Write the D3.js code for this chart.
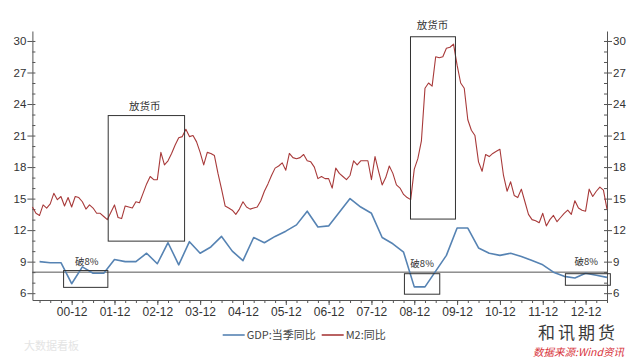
<!DOCTYPE html>
<html><head><meta charset="utf-8">
<script src="https://cdn.jsdelivr.net/npm/d3@7"></script>
<style>body{margin:0;background:#fff}svg{display:block}</style>
</head><body>
<svg id="chart" width="640" height="361"></svg>
<script>
// ---- data ----
// M2 YoY (%), monthly 2000-01 .. 2013-06
const m2Values = [
  14.2,13.6,13.4,14.4,14.1,14.5,15.5,14.9,15.2,14.3,15.1,14.2,
  15.2,15.1,14.7,14.0,14.4,14.1,13.6,13.6,13.3,13.0,13.7,14.4,
  13.2,13.1,14.3,14.2,14.1,14.7,14.6,15.5,16.4,17.1,16.8,16.8,
  19.4,18.2,18.6,19.3,20.1,20.8,20.9,21.6,20.9,21.0,20.4,19.4,
  18.2,19.4,19.3,19.1,17.4,15.9,14.3,14.1,13.9,13.5,14.0,14.7,
  14.2,14.0,14.1,14.2,14.8,15.7,16.4,17.2,17.9,18.1,18.4,17.7,
  19.3,18.9,18.8,18.9,19.2,18.6,18.5,18.0,16.9,17.1,16.9,16.9,
  16.0,17.9,17.4,17.1,16.8,17.2,18.6,18.2,18.6,18.6,18.6,16.8,
  19.0,17.6,16.3,17.0,18.1,17.4,16.3,16.0,15.4,15.1,14.9,17.8,
  18.8,20.5,25.5,26.0,25.7,28.5,28.4,28.5,29.3,29.4,29.7,27.7,
  26.0,25.5,22.5,21.5,21.0,18.5,17.6,19.2,19.0,19.3,19.5,19.7,
  17.2,15.7,16.6,15.3,15.1,15.9,14.7,13.5,13.0,12.9,12.7,13.6,
  12.4,13.0,13.4,12.8,13.2,13.6,13.9,13.5,14.8,14.1,13.9,13.8,
  15.9,15.2,15.7,16.1,15.8,14.0
];
// GDP quarterly YoY (%), 2000Q1 .. 2013Q2
const gdpValues = [
  9.0,8.9,8.9,6.9,
  8.5,7.9,7.9,9.2,
  9.0,9.0,9.8,8.8,
  10.8,8.7,10.9,9.8,
  10.4,11.4,10.0,9.1,
  11.3,10.8,11.4,11.9,
  12.5,13.8,12.3,12.4,
  13.7,15.0,14.2,13.6,
  11.3,10.7,9.9,6.6,
  6.6,8.1,9.6,12.2,
  12.2,10.3,9.8,9.6,
  9.8,9.5,9.1,8.7,
  8.0,7.6,7.45,7.9,
  7.7,7.5
];
const xTickLabels = ["00-12","01-12","02-12","03-12","04-12","05-12","06-12","07-12","08-12","09-12","10-12","11-12","12-12"];
const yTickLabels = [6,9,12,15,18,21,24,27,30];
const seriesNames = ["GDP:当季同比","M2:同比"];
const threshold = 8;
// annotation boxes in data units: [month0, month1, value0, value1]
const boxes = [
  [8.6, 21.0, 6.6, 8.2],
  [21.1, 42.5, 11.0, 22.95],
  [105.8, 118.4, 13.1, 30.45],
  [104.1, 114.0, 5.95, 7.9],
  [149.2, 161.8, 6.8, 7.9]
];
const notes = [
  {m:31.5, v:23.75, t:"放货币"},
  {m:112.1, v:31.45, t:"放货币"},
  {m:15.2, v:9.0, t:"破8%"},
  {m:109.2, v:8.8, t:"破8%"},
  {m:155.2, v:9.0, t:"破8%"}
];

// ---- chart ----
const svg = d3.select("#chart");
const font = "'Liberation Sans', Arial, 'Noto Sans CJK SC', sans-serif";
const cjk = "'Noto Sans CJK SC', 'Liberation Sans', sans-serif";
const x = d3.scaleLinear().domain([0, 161]).range([32.4, 607]);
const y = d3.scaleLinear().domain([5.35, 30.95]).range([300, 31]);

const m2Data = m2Values.map((v,i)=>({m:i, v}));
const gdpData = gdpValues.map((v,i)=>({m:2+3*i, v}));

const axisColor = "#555";
function styleAxis(g){
  g.selectAll("path,line").attr("stroke", axisColor);
  g.selectAll("text").attr("fill","#333").style("font-family", font);
}
const minorY = d3.range(6, 31);
// left axis
svg.append("g").attr("transform",`translate(${x.range()[0]},0)`)
  .call(d3.axisLeft(y).tickValues(yTickLabels).tickSize(5).tickSizeOuter(0).tickPadding(1))
  .call(g=>g.selectAll("text").style("font-size","11.5px"))
  .call(styleAxis);
svg.append("g").attr("transform",`translate(${x.range()[0]},0)`)
  .call(d3.axisRight(y).tickValues(minorY).tickSize(3).tickSizeOuter(0).tickFormat(""))
  .call(g=>g.select(".domain").remove())
  .call(styleAxis);
// right axis
svg.append("g").attr("transform",`translate(${x.range()[1]},0)`)
  .call(d3.axisRight(y).tickValues(yTickLabels).tickSize(5).tickSizeOuter(0).tickPadding(1))
  .call(g=>g.selectAll("text").style("font-size","11.5px"))
  .call(styleAxis);
svg.append("g").attr("transform",`translate(${x.range()[1]},0)`)
  .call(d3.axisLeft(y).tickValues(minorY).tickSize(3).tickSizeOuter(0).tickFormat(""))
  .call(g=>g.select(".domain").remove())
  .call(styleAxis);
// x axis
const quarterTicks = d3.range(2, 162, 3);
const majorTicks = xTickLabels.map((d,i)=>11+12*i);
svg.append("g").attr("transform",`translate(0,${y.range()[0]})`)
  .call(d3.axisBottom(x).tickValues(quarterTicks).tickSize(3).tickSizeOuter(0).tickFormat(""))
  .call(styleAxis);
svg.append("g").attr("transform",`translate(0,${y.range()[0]})`)
  .call(d3.axisBottom(x).tickValues(majorTicks).tickSize(5).tickSizeOuter(0).tickPadding(2)
    .tickFormat((d,i)=>xTickLabels[i]))
  .call(g=>g.select(".domain").remove())
  .call(g=>g.selectAll("text").style("font-size","12px"))
  .call(styleAxis);

// threshold line
svg.append("line")
  .attr("x1", x.range()[0]).attr("x2", x.range()[1])
  .attr("y1", y(threshold)).attr("y2", y(threshold))
  .attr("stroke","#555").attr("stroke-width",1);

// lines
const line = d3.line().x(d=>x(d.m)).y(d=>y(d.v));
svg.append("path").datum(gdpData).attr("d", line)
  .attr("fill","none").attr("stroke","#5683b3").attr("stroke-width",1.6).attr("stroke-linejoin","round");
svg.append("path").datum(m2Data).attr("d", line)
  .attr("fill","none").attr("stroke","#a83a3a").attr("stroke-width",1.1).attr("stroke-linejoin","round");

// boxes
svg.selectAll("rect.box").data(boxes).join("rect").attr("class","box")
  .attr("x", d=>x(d[0])+0.5).attr("width", d=>x(d[1])-x(d[0]))
  .attr("y", d=>y(d[3])+0.5).attr("height", d=>y(d[2])-y(d[3]))
  .attr("fill","none").attr("stroke","#333").attr("stroke-width",1);

// notes
svg.selectAll("text.note").data(notes).join("text").attr("class","note")
  .attr("x", d=>x(d.m)).attr("y", d=>y(d.v)).attr("dy","0.35em")
  .attr("text-anchor","middle")
  .style("font-family", cjk).style("font-size", d=>d.t==="放货币"?"10.5px":"9.5px")
  .attr("fill","#333").text(d=>d.t);

// legend
const legendColors = ["#5683b3","#a83a3a"];
const legendX = [222.7, 321.7];
const lg = svg.append("g");
seriesNames.forEach((n,i)=>{
  lg.append("line").attr("x1",legendX[i]).attr("x2",legendX[i]+22)
    .attr("y1",335).attr("y2",335).attr("stroke",legendColors[i]).attr("stroke-width",1.6);
  lg.append("text").attr("x",legendX[i]+24).attr("y",335).attr("dy","0.35em")
    .style("font-family", cjk).style("font-size","11px").attr("fill","#444").text(n);
});

// watermarks
svg.append("text").attr("x",24).attr("y",350)
  .style("font-family",cjk).style("font-size","11px").attr("fill","#e4e4e4").text("大数据看板");
svg.append("text").attr("x",538).attr("y",339)
  .style("font-family",cjk).style("font-size","17px").style("letter-spacing","3px")
  .attr("fill","#3a3a3a").text("和讯期货");
svg.append("text").attr("x",533).attr("y",356)
  .style("font-family",cjk).style("font-size","10.5px").style("font-style","italic")
  .attr("fill","#d8333b").text("数据来源:Wind资讯");
</script>
</body></html>
